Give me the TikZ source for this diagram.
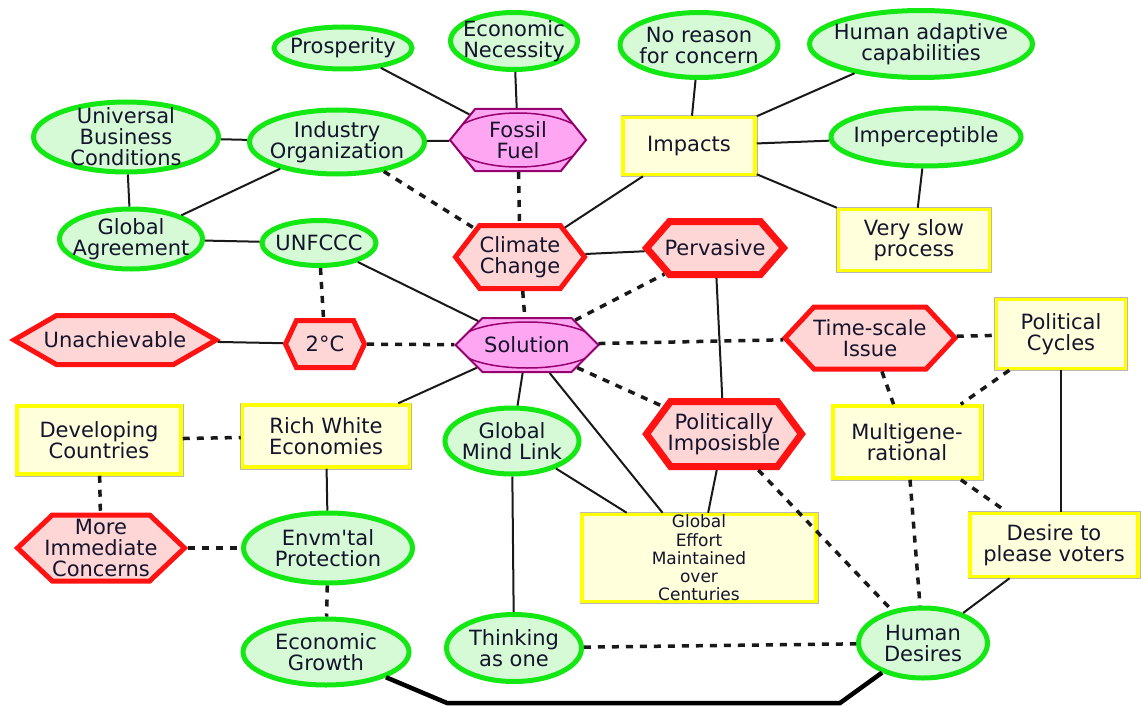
\documentclass[tikz,border=0pt]{standalone}
\usepackage{fontspec}
\setmainfont{DejaVu Sans}
\usetikzlibrary{shapes.geometric,shapes.symbols,calc}

\definecolor{gbord}{RGB}{20,232,20}
\definecolor{gfill}{RGB}{214,250,214}
\definecolor{rbord}{RGB}{255,18,18}
\definecolor{rfill}{RGB}{255,214,214}
\definecolor{mbord}{RGB}{150,0,110}
\definecolor{mfill}{RGB}{255,166,242}
\definecolor{ybord}{RGB}{255,255,0}
\definecolor{yfill}{RGB}{255,255,220}
\definecolor{txtc}{RGB}{20,20,45}
\definecolor{linec}{RGB}{25,25,25}

\tikzset{
  txt/.style={text=txtc, font=\fontsize{21}{21}\selectfont, align=center, inner sep=0pt},
  smalltxt/.style={txt, font=\fontsize{17}{18.3}\selectfont},
  gell/.style={ellipse, draw=gbord, fill=gfill, line width=5pt, inner sep=0pt},
  rhex/.style={signal, signal to=east and west, draw=rbord, fill=rfill, line width=5pt, inner sep=0pt},
  rhexbold/.style={rhex, line width=7pt},
  mhex/.style={signal, signal to=east and west, draw=mbord, fill=mfill, line width=2pt, inner sep=0pt,
    path picture={\draw[draw=mbord, line width=1.5pt]
      let \p0=(path picture bounding box.center),
          \p1=(path picture bounding box.east),
          \p2=(path picture bounding box.north) in
      (\p0) ellipse [x radius={\x1-\x0}, y radius={\y2-\y0-4pt}];}},
  ybox/.style={rectangle, draw=ybord, fill=yfill, line width=3.5pt, inner sep=0pt,
    preaction={draw=black!28, line width=5pt}},
  link/.style={draw=linec, line width=2pt},
  dlink/.style={draw=linec, line width=3.5pt, dash pattern=on 7pt off 7pt},
  heavylink/.style={draw=black, line width=4.5pt, line join=miter},
}

\begin{document}
\begin{tikzpicture}[x=1pt, y=-1pt]
\fill[white] (0,0) rectangle (1142,706);
\useasboundingbox (0,0) rectangle (1142,706);

% --- green ellipses
\node[gell, minimum width=138pt, minimum height=42pt, label={[txt]center:Prosperity}] (pros) at (343,48) {};
\node[gell, minimum width=127pt, minimum height=57pt, label={[txt]center:{Economic\\Necessity}}] (econ) at (514,41) {};
\node[gell, minimum width=158pt, minimum height=65pt, label={[txt]center:{No reason\\for concern}}] (noreason) at (699,45) {};
\node[gell, minimum width=223pt, minimum height=67pt, label={[txt]center:{Human adaptive\\capabilities}}] (adapt) at (921,44) {};
\node[gell, minimum width=185pt, minimum height=70pt, label={[txt]center:{Universal\\Business\\Conditions}}] (ubc) at (126,137) {};
\node[gell, minimum width=175pt, minimum height=64pt, label={[txt]center:{Industry\\Organization}}] (indorg) at (337,142) {};
\node[gell, minimum width=190pt, minimum height=58pt, label={[txt]center:Imperceptible}] (imperc) at (926,137) {};
\node[gell, minimum width=143pt, minimum height=60pt, label={[txt]center:{Global\\Agreement}}] (globagr) at (131,239) {};
\node[gell, minimum width=114pt, minimum height=45pt, label={[txt]center:UNFCCC}] (unfccc) at (319,243) {};
\node[gell, minimum width=134pt, minimum height=66pt, label={[txt]center:{Global\\Mind Link}}] (gml) at (512,441) {};
\node[gell, minimum width=169pt, minimum height=70pt, label={[txt]center:{Envm\textquotesingle tal\\Protection}}] (envm) at (328,548) {};
\node[gell, minimum width=166pt, minimum height=66pt, label={[txt]center:{Economic\\Growth}}] (egrowth) at (326,652) {};
\node[gell, minimum width=135pt, minimum height=67pt, label={[txt]center:{Thinking\\as one}}] (thinking) at (514,648) {};
\node[gell, minimum width=129pt, minimum height=70pt, label={[txt]center:{Human\\Desires}}] (humdes) at (923,643) {};

% --- yellow boxes
\node[ybox, minimum width=132pt, minimum height=57pt, label={[txt]center:Impacts}] (impacts) at (689,146) {};
\node[ybox, minimum width=151pt, minimum height=61pt, label={[txt]center:{Very slow\\process}}] (slow) at (914,240) {};
\node[ybox, minimum width=129pt, minimum height=69pt, label={[txt]center:{Political\\Cycles}}] (polcyc) at (1061,334) {};
\node[ybox, minimum width=164pt, minimum height=68pt, label={[txt]center:{Developing\\Countries}}] (devel) at (99,440) {};
\node[ybox, minimum width=167pt, minimum height=62pt, label={[txt]center:{Rich White\\Economies}}] (rich) at (326,436) {};
\node[ybox, minimum width=148pt, minimum height=72pt, label={[txt]center:{Multigene-\\rational}}] (multigen) at (907,442) {};
\node[ybox, minimum width=234pt, minimum height=87pt, label={[smalltxt]center:{Global\\Effort\\Maintained\\over\\Centuries}}] (effort) at (699,558) {};
\node[ybox, minimum width=168pt, minimum height=63pt, label={[txt]center:{Desire to\\please voters}}] (voters) at (1054,545) {};

% --- magenta hexagons
\node[mhex, minimum width=136pt, minimum height=62pt, signal pointer angle=102, label={[txt]center:{Fossil\\Fuel}}] (fossil) at (518,140) {};
\node[mhex, minimum width=143pt, minimum height=54pt, signal pointer angle=90, label={[txt]center:Solution}] (solution) at (527,345) {};

% --- red hexagons
\node[rhex, minimum width=129pt, minimum height=63pt, signal pointer angle=105, label={[txt]center:{Climate\\Change}}] (climate) at (520,257) {};
\node[rhexbold, minimum width=137pt, minimum height=53pt, signal pointer angle=98, label={[txt]center:Pervasive}] (pervasive) at (715,248) {};
\node[rhex, minimum width=202pt, minimum height=49pt, signal pointer angle=60, label={[txt]center:Unachievable}] (unach) at (115,340) {};
\node[rhex, minimum width=79pt, minimum height=47pt, signal pointer angle=130, label={[txt]center:2°C}] (twoc) at (325,344) {};
\node[rhex, minimum width=170pt, minimum height=62pt, signal pointer angle=94, label={[txt]center:{Time-scale\\Issue}}] (timescale) at (870,338) {};
\node[rhexbold, minimum width=155pt, minimum height=65pt, signal pointer angle=107, label={[txt]center:{Politically\\Imposisble}}] (polimp) at (724,434) {};
\node[rhex, minimum width=167pt, minimum height=66pt, signal pointer angle=87, label={[txt]center:{More\\Immediate\\Concerns}}] (moreimm) at (101,548) {};

% --- solid links
\draw[link] (pros) -- (fossil);
\draw[link] (econ) -- (fossil);
\draw[link] (indorg) -- (fossil);
\draw[link] (ubc) -- (indorg);
\draw[link] (ubc) -- (globagr);
\draw[link] (globagr) -- (indorg);
\draw[link] (globagr) -- (unfccc);
\draw[link] (unfccc) -- (solution);
\draw[link] (noreason) -- (impacts);
\draw[link] (adapt) -- (impacts);
\draw[link] (imperc) -- (impacts);
\draw[link] (impacts) -- (slow);
\draw[link] (imperc) -- (slow);
\draw[link] (impacts) -- (climate);
\draw[link] (climate) -- (pervasive);
\draw[link] (pervasive) -- (polimp);
\draw[link] (unach) -- (twoc);
\draw[link] (solution) -- (rich);
\draw[link] (solution) -- (gml);
\draw[link] (solution) -- (effort);
\draw[link] (gml) -- (effort);
\draw[link] (polimp) -- (effort);
\draw[link] (rich) -- (envm);
\draw[link] (gml) -- (thinking);
\draw[link] (polcyc.south) -- (polcyc.south |- voters.north);
\draw[link] (voters) -- (humdes);

% --- dotted links
\draw[dlink] (indorg) -- (climate);
\draw[dlink] (fossil) -- (climate);
\draw[dlink] (unfccc) -- (twoc);
\draw[dlink] (twoc) -- (solution);
\draw[dlink] (climate) -- (solution);
\draw[dlink] (solution) -- (pervasive);
\draw[dlink] (solution) -- (timescale);
\draw[dlink] (solution) -- (polimp);
\draw[dlink] (timescale) -- (polcyc);
\draw[dlink] (timescale) -- (multigen);
\draw[dlink] (polcyc) -- (multigen);
\draw[dlink] (multigen) -- (humdes);
\draw[dlink] (multigen) -- (voters);
\draw[dlink] (polimp) -- (humdes);
\draw[dlink] (devel) -- (rich);
\draw[dlink] (devel) -- (moreimm);
\draw[dlink] (moreimm) -- (envm);
\draw[dlink] (envm) -- (egrowth);
\draw[dlink] (thinking) -- (humdes);

% --- heavy link along the bottom
\coordinate (bl) at (447,703);
\coordinate (br) at (840,703);
\draw[heavylink] (egrowth) -- (bl) -- (br) -- (humdes);
\end{tikzpicture}
\end{document}
